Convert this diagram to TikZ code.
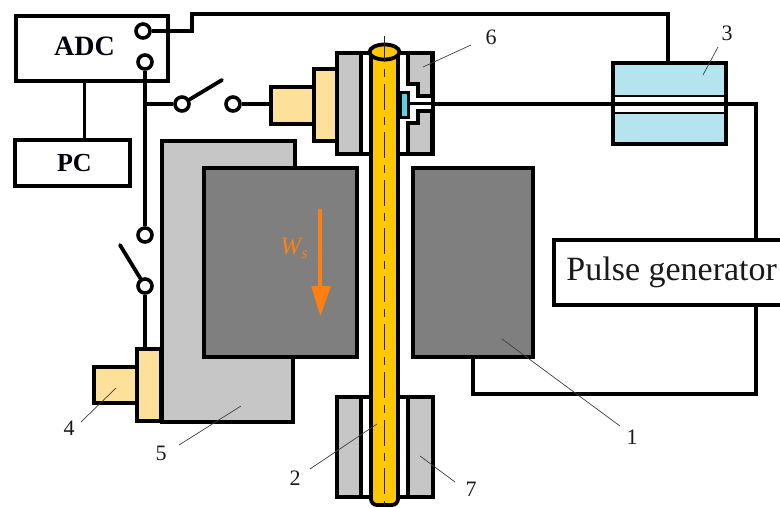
\documentclass[tikz,border=0pt]{standalone}
\usepackage{fontspec}
\setmainfont{Liberation Serif}
\definecolor{gryL}{HTML}{C6C6C6}
\definecolor{gryD}{HTML}{7F7F7F}
\definecolor{rodY}{HTML}{FFC800}
\definecolor{paleY}{HTML}{FDE09A}
\definecolor{paleB}{HTML}{B4E4EE}
\definecolor{cyanB}{HTML}{5CCFE0}
\definecolor{arrO}{HTML}{FF7F11}
\tikzset{
  wire/.style={line width=3.8pt,line cap=butt,line join=miter},
  part/.style={draw=black,line width=3.8pt,line join=miter},
  boxn/.style={part,fill=white,inner sep=0pt,anchor=north west},
  term/.style={circle,draw=black,fill=white,line width=3.6pt,minimum size=14pt,inner sep=0pt},
  leader/.style={line width=0.7pt,draw=black!75},
  num/.style={font=\fontsize{22}{24}\selectfont,inner sep=0pt,text=black!90},
}
\begin{document}
\begin{tikzpicture}[x=1pt,y=-1pt]
\useasboundingbox (0,0) rectangle (780,507);
\fill[white] (0,0) rectangle (780,507);

% boxes
\node[boxn,minimum width=152pt,minimum height=65pt] (adc) at (14,14) {};
\node[font=\fontsize{28}{30}\selectfont\bfseries,text=black!95!blue] (adctxt) at (84.5,46) {ADC};
\node[boxn,minimum width=115pt,minimum height=46pt,font=\fontsize{26}{28}\selectfont\bfseries,text=black!95!blue] (pc) at (13,138) {\hspace*{4pt}\raisebox{1pt}{PC}};
\draw[wire] (adctxt |- adc.south) -- (adctxt |- pc.north);

% terminals and named points
\coordinate (tj) at (668,63);
\coordinate (wb) at (145,104);
\coordinate (c1) at (192,31);
\coordinate (c2) at (192,14);
\coordinate (c3) at (668,14);
\coordinate (c4) at (756,104);
\coordinate (c5) at (756,394);
\coordinate (c6) at (473,394);
\coordinate (c7) at (473,357);
\coordinate (c8) at (756,240);
\coordinate (c9) at (756,305);
\node[term] (t1) at (143,31) {};
\node[term] (t2) at (145,62) {};
\node[term] (s1a) at (182,104) {};
\node[term] (s1b) at (233,104) {};
\node[term] (s2a) at (145,235) {};
\node[term] (s2b) at (145,286) {};
\coordinate (arm1) at (222,80);
\coordinate (arm2) at (120,245);

% wiring
\draw[wire] (t1) -- (c1) -- (c2) -- (c3) -- (tj);
\draw[wire] (t2) -- (s2a);
\draw[wire] (wb) -- (s1a);
\draw[wire,line cap=round] (s1a) -- (arm1);
\draw[wire,line cap=round] (s2b) -- (arm2);
\draw[wire] (432,104) -- (c4) -- (c8);
\draw[wire] (c9) -- (c5) -- (c6) -- (c7);

% pulse generator
\node[inner sep=0pt,minimum width=226pt,minimum height=65pt,anchor=north west,fill=white,
  font=\fontsize{34}{36}\selectfont,text=black!90] (pg) at (554,240) {\hspace*{9pt}\raisebox{-3pt}{Pulse generator}};
\draw[part] (780,240) -- (554,240) -- (554,305) -- (780,305);

% part 3
\draw[part,fill=paleB] (613,63) rectangle (726,144);
\fill[white] (615,97) rectangle (724,112);
\draw[line width=1.6pt] (615,96) -- (724,96) (615,113) -- (724,113);
\draw[part] (613,63) rectangle (726,144);
\draw[wire] (600,104) -- (740,104);

% part 5
\draw[part,fill=gryL] (162,141) -- (295,141) -- (295,170) -- (293,170) -- (293,422) -- (162,422) -- cycle;

% part 4
\draw[wire] (s2b) -- (145,349);
\draw[part,fill=paleY] (94,367) rectangle (137,403);
\draw[part,fill=paleY] (137,349) rectangle (161,421);

% part 1
\draw[part,fill=gryD] (204,168) rectangle (357,357);
\draw[part,fill=gryD] (413,168) rectangle (533,357);

% top holder
\draw[wire] (s1b) -- (271,104);
\draw[part,fill=paleY] (271,87) rectangle (314,124);
\draw[part,fill=paleY] (314,69) rectangle (337,141);
\draw[part,fill=white] (337,53) rectangle (433,154);
\draw[part,fill=gryL] (337,53) rectangle (361,154);
\draw[part,fill=gryL] (408,53) -- (432,53) -- (432,96) -- (418,96) -- (418,84) -- (408,84) -- cycle;
\draw[part,fill=gryL] (408,154) -- (432,154) -- (432,111) -- (418,111) -- (418,123) -- (408,123) -- cycle;
\draw[wire] (406,103.5) -- (434,103.5);
\draw[line width=3pt,fill=cyanB] (400,92.5) rectangle (408.5,117.5);

% bottom holder
\draw[part,fill=white] (337,397) rectangle (433,497);
\draw[part,fill=gryL] (337,397) rectangle (361,497);
\draw[part,fill=gryL] (408,397) rectangle (433,497);

% rod
\draw[part,fill=rodY,rounded corners=6pt] (371,52) -- (371,505) -- (398,505) -- (398,52);
\draw[part,fill=rodY] (384.5,52) ellipse (15pt and 7.5pt);
\draw[line width=1.8pt,draw=black!85,dash pattern=on 26pt off 7pt on 8pt off 7pt] (384.5,36) -- (384.5,506);

% Ws arrow
\node[font=\fontsize{25}{27}\selectfont\itshape,text=arrO,inner sep=0pt] (ws) at (294,248) {W\raisebox{-4pt}{\fontsize{16}{17}\selectfont s}};
\draw[line width=4.6pt,draw=arrO,line cap=round] (320,211) -- (320,290);
\fill[arrO,rounded corners=1pt] (311,286) -- (331,286) -- (320.5,316) -- cycle;

% labels
\node[num] (l1) at (632,437) {1};
\node[num] (l2) at (295,478) {2};
\node[num] (l3) at (727,33) {3};
\node[num] (l4) at (69,428) {4};
\node[num] (l5) at (161,453) {5};
\node[num] (l6) at (491,37) {6};
\node[num] (l7) at (471,489) {7};
\coordinate (p1) at (502,339);
\coordinate (p2) at (377,424);
\coordinate (p3) at (703,75);
\coordinate (p4) at (116,388);
\coordinate (p5) at (241,406);
\coordinate (p6) at (423,67);
\coordinate (p7) at (420,456);
\draw[leader] (p1) -- (620,426);
\draw[leader] (p2) -- (310,469);
\draw[leader] (p3) -- (718,47);
\draw[leader] (p4) -- (81,422);
\draw[leader] (p5) -- (179,445);
\draw[leader] (p6) -- (471,45);
\draw[leader] (p7) -- (455,482);
\end{tikzpicture}
\end{document}
